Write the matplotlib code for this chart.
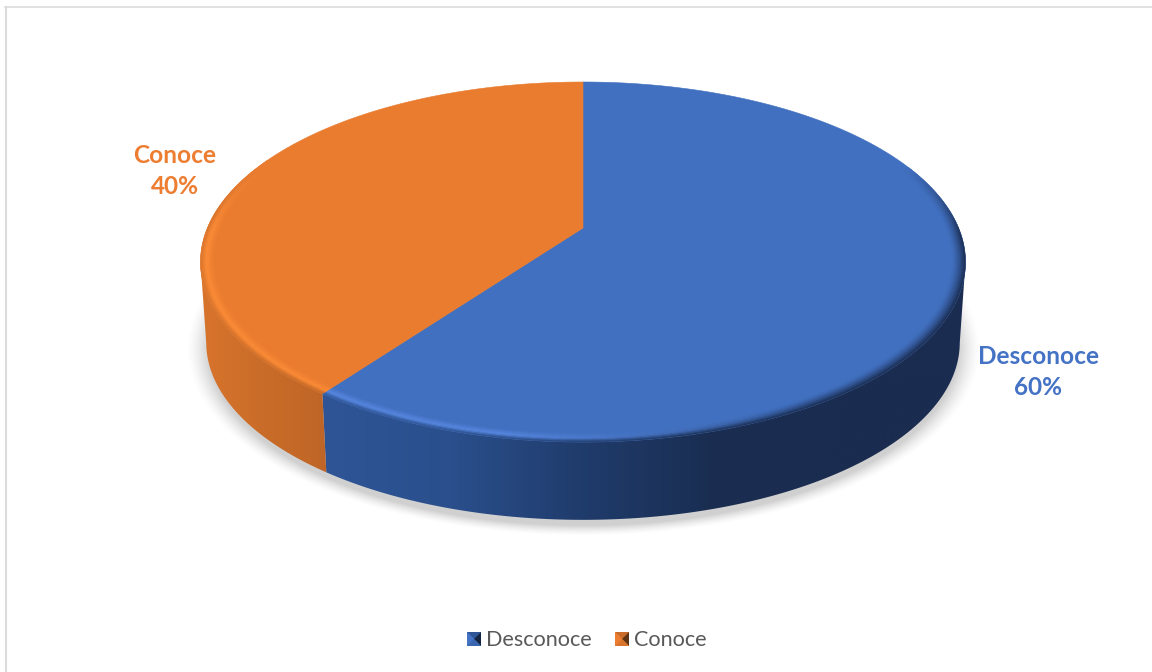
import numpy as np
import matplotlib
matplotlib.use('Agg')
import matplotlib.pyplot as plt
from matplotlib.colors import LinearSegmentedColormap, to_rgb
from matplotlib.patches import Polygon, Rectangle

categories = ['Desconoce', 'Conoce']
values = [60, 40]
top_colors = ['#4170c0', '#ea7c30']
label_colors = ['#4472c4', '#ed7d31']
rim_colors = ['#5b8ce6', '#ff8f38']

plt.rcParams['font.family'] = ['Lato', 'DejaVu Sans']

W, H = 1152, 672
fig = plt.figure(figsize=(W / 100, H / 100), dpi=100)
ax = fig.add_axes([0, 0, 1, 1])
ax.axis('off')

# the disc is a circle seen in perspective, everything goes through project()
CX, CY = 583, 228
A, B, K = 375.6, 173.6, 0.189
DEPTH, BOTTOM_SCALE = 81, 0.985


def project(theta, r=1.0, bottom=False):
    # theta runs clockwise from twelve o'clock, in degrees
    t = np.radians(theta)
    u, v = r * np.sin(t), r * np.cos(t)
    w = 1 + K * v
    x, y = A * u / w, B * v / w
    if bottom:
        return CX + BOTTOM_SCALE * x, CY + DEPTH - BOTTOM_SCALE * y
    return CX + x, CY - y


def quad(th0, th1, r0=1.0, r1=1.0):
    x0, y0 = project(th0, r0)
    x1, y1 = project(th1, r0)
    x2, y2 = project(th1, r1)
    x3, y3 = project(th0, r1)
    return [(x0, y0), (x1, y1), (x2, y2), (x3, y3)]


def mix(a, b, t):
    return tuple((1 - t) * np.array(a) + t * np.array(b))


# soft shadow under the disc
yy, xx = np.mgrid[0:H, 0:W]
ex, ey = project(np.linspace(0, 360, 721), bottom=True)
mid_y = (ey.max() + ey.min()) / 2
rad_y = (ey.max() - ey.min()) / 2
rad_x = (ex.max() - ex.min()) / 2
dist = np.sqrt(((xx - CX) / rad_x) ** 2 + ((yy - mid_y - 6) / rad_y) ** 2)
rgba = np.zeros((H, W, 4))
rgba[..., :3] = 0.35
rgba[..., 3] = np.clip((1.055 - dist) / 0.06, 0, 1) ** 1.5 * 0.28
ax.imshow(rgba, extent=(0, W, H, 0), zorder=1, interpolation='bilinear', aspect='auto')

# slices start at twelve o'clock and go clockwise
edges = np.concatenate([[0], np.cumsum(values)]) / np.sum(values) * 360
side_cmaps = [
    LinearSegmentedColormap.from_list('s0', ['#2f5597', '#2a4f8c', '#203c6c', '#1a2e52', '#1a2c4f', '#1a2c4f']),
    LinearSegmentedColormap.from_list('s1', ['#d8742c', '#c96c29', '#be6527']),
]
side_spans = [(322, 966), (200, 330)]

# the wall is only seen between the left and right extremes of the rim
probe = np.linspace(0, 360, 1441)
probe_x = project(probe)[0]
right_th, left_th = probe[np.argmax(probe_x)], probe[np.argmin(probe_x)]


def wall_color(i, theta):
    x, _ = project(theta)
    lo, hi = side_spans[i]
    return side_cmaps[i](np.clip((x - lo) / (hi - lo), 0, 1))[:3]


grad = np.linspace(0, 1, 256)[None, :]
for i in range(len(values)):
    th = np.linspace(max(edges[i], right_th), min(edges[i + 1], left_th), 300)
    tx, ty = project(th)
    bx, by = project(th, bottom=True)
    wall = Polygon(np.r_[np.c_[tx, ty], np.c_[bx, by][::-1]], closed=True, fc='none', ec='none', zorder=2)
    ax.add_patch(wall)
    lo, hi = side_spans[i]
    im = ax.imshow(grad, cmap=side_cmaps[i], extent=(lo, hi, 530, 230), zorder=2, aspect='auto', vmin=0, vmax=1)
    im.set_clip_path(wall)

ax.set_xlim(0, W)
ax.set_ylim(H, 0)

# top faces, wedge from centre to arc
for i in range(len(values)):
    th = np.linspace(edges[i], edges[i + 1], 400)
    tx, ty = project(th)
    pts = np.r_[[[CX, CY]], np.c_[tx, ty]]
    ax.add_patch(Polygon(pts, closed=True, fc=top_colors[i], ec=top_colors[i], lw=0.4, zorder=3))

# bevel along the rim: highlight on the lit side, blends into the wall at the edge
layers = np.linspace(0.965, 1.0, 9)
for i in range(len(values)):
    base = to_rgb(top_colors[i])
    hl = to_rgb(rim_colors[i])
    th = np.linspace(edges[i], edges[i + 1], int(edges[i + 1] - edges[i]) + 1)
    for a, b in zip(th[:-1], th[1:]):
        m = (a + b) / 2
        # how far the wall shows below this part of the rim
        edge = np.clip((m - 68) / 25, 0, 1) if m < 180 else np.clip((295 - m) / 20, 0, 1)
        if i == 0:
            light = np.clip((m - 150) / 40, 0, 1)
        else:
            light = np.clip((295 - m) / 25, 0, 1)
        if edge <= 0 and light <= 0:
            continue
        w = wall_color(i, m)
        for r0, r1 in zip(layers[:-1], layers[1:]):
            t = (r0 + r1 - 2 * layers[0]) / (2 * (1 - layers[0]))
            c = mix(base, hl, min(t / 0.6, 1) * light * 0.85)
            # the shaded side darkens all the way, the lit side only past the highlight
            fade = (1 - light) * t ** 1.5 + light * max((t - 0.6) / 0.4, 0)
            c = mix(c, w, fade * edge)
            ax.add_patch(Polygon(quad(a, b, r0, r1), closed=True, fc=c, ec=c, lw=0.3, zorder=4))

# frame
ax.plot([5.5, 5.5], [H, 7], color='#dcdcdc', lw=1.5, zorder=6)
ax.plot([5, W], [7, 7], color='#dcdcdc', lw=1.2, zorder=6)

# data labels
label_pos = [(1038, 372), (175, 171)]
for i, name in enumerate(categories):
    ax.text(label_pos[i][0], label_pos[i][1], f'{name}\n{values[i]}%', color=label_colors[i],
            fontsize=17.6, fontweight='bold', ha='center', va='center', linespacing=1.45, zorder=7)

# legend with bevelled swatches
swatch_x = [474, 622]
text_x = [486, 634]
swatch_shades = [['#2f5597', '#14233f', '#3a66b0', '#4472c4'], ['#c96c29', '#5e3414', '#d8742c', '#ed7d31']]
for i, name in enumerate(categories):
    c = swatch_x[i]
    yc, s = 639, 7
    corners = [(c - s, yc - s), (c + s, yc - s), (c + s, yc + s), (c - s, yc + s)]
    ax.add_patch(Rectangle((c - s, yc - s), 2 * s, 2 * s, fc=top_colors[i], ec='none', zorder=7))
    for k, (a, b) in enumerate([(0, 1), (1, 2), (2, 3), (3, 0)]):
        ax.add_patch(Polygon([corners[a], corners[b], (c, yc)], closed=True,
                             fc=swatch_shades[i][k], ec='none', zorder=7))
    ax.text(text_x[i], yc + 1, name, color='#595959', fontsize=15.6, ha='left', va='center', zorder=7)

fig.savefig('out.png', dpi=100)
